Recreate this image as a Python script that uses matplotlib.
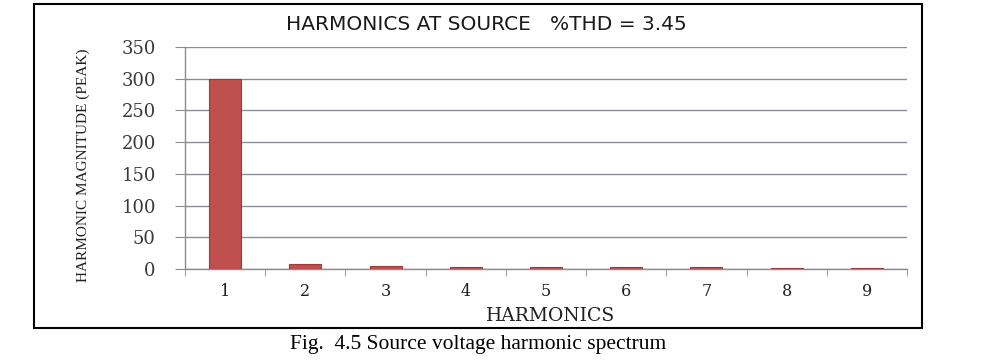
import numpy as np
import matplotlib
matplotlib.use('Agg')
import matplotlib.pyplot as plt
from matplotlib.patches import Rectangle

# 데이터
harmonics = ['1', '2', '3', '4', '5', '6', '7', '8', '9']
magnitude = [299, 8, 5, 3.5, 3.5, 3, 3, 2, 2]
y_ticks = [0, 50, 100, 150, 200, 250, 300, 350]

W, H = 989, 360
fig = plt.figure(figsize=(W / 100, H / 100), dpi=100)
fig.patch.set_facecolor('white')

ax = fig.add_axes([185 / W, 1 - 269 / H, (907 - 185) / W, (269 - 47) / H])

x = np.arange(len(harmonics))
ax.bar(x, magnitude, width=0.4, color='#C0504D', edgecolor='#9A3B39', linewidth=0.8, zorder=3)

ax.set_xlim(-0.5, len(harmonics) - 0.5)
ax.set_ylim(0, 350)
ax.set_yticks(y_ticks)
ax.set_yticklabels([str(v) for v in y_ticks], fontfamily='DejaVu Serif', fontsize=13, color='#3a3a3a')
ax.set_xticks(x)
ax.set_xticklabels(harmonics, fontfamily='DejaVu Serif', fontsize=11.5, color='#202020')
ax.set_xticks(np.arange(-0.5, len(harmonics)), minor=True)
ax.tick_params(axis='x', which='major', length=0, pad=10)
ax.tick_params(axis='x', which='minor', length=5, color='#8c8c8c', direction='out')
ax.tick_params(axis='y', length=7, color='#8c8c8c', pad=14)

ax.grid(axis='y', color='#8f8a9a', linewidth=1.0, zorder=0)
for s in ['top', 'right']:
    ax.spines[s].set_visible(False)
for s in ['left', 'bottom']:
    ax.spines[s].set_color('#8c8c8c')
    ax.spines[s].set_linewidth(1.0)

# 제목과 축 라벨
fig.text(486 / W, 1 - 24 / H, 'HARMONICS AT SOURCE   %THD = 3.45', ha='center', va='center',
         fontfamily='DejaVu Sans', fontsize=14.5, color='#1a1a1a')
fig.text(83 / W, 1 - 165 / H, 'HARMONIC MAGNITUDE (PEAK)', rotation=90, ha='center', va='center',
         fontfamily='Liberation Serif', fontsize=11, color='#202020')
fig.text(551 / W, 1 - 316 / H, 'HARMONICS', ha='center', va='center',
         fontfamily='DejaVu Serif', fontsize=13.5, color='#202020')

# 바깥 테두리
fig.add_artist(Rectangle((34 / W, 1 - 328 / H), (922 - 34) / W, (328 - 4) / H,
                         transform=fig.transFigure, fill=False, edgecolor='black', linewidth=1.5))

# 그림 캡션
fig.text(478 / W, 1 - 344 / H, 'Fig.  4.5 Source voltage harmonic spectrum', ha='center', va='center',
         fontfamily='Liberation Serif', fontsize=15.5, color='black')

fig.savefig('out.png', dpi=100)
